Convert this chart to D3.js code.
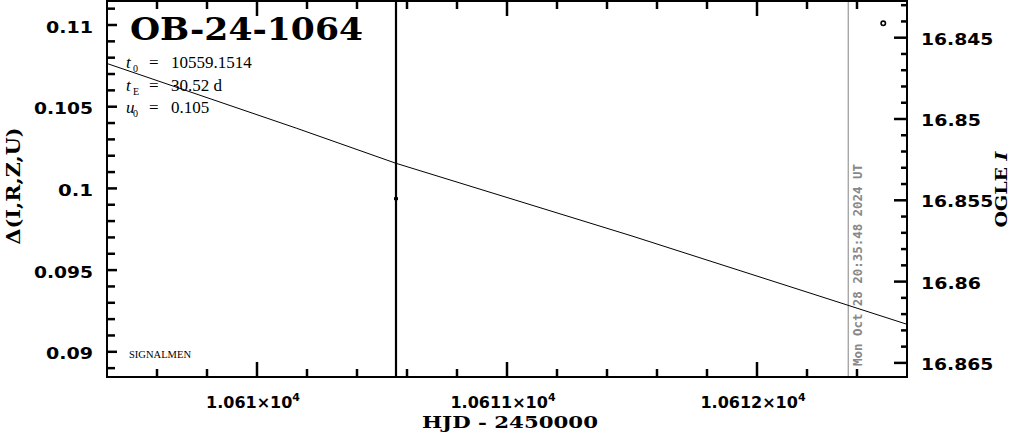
<!DOCTYPE html>
<html><head><meta charset="utf-8">
<script src="https://cdn.jsdelivr.net/npm/d3@7"></script>
<style>html,body{margin:0;padding:0;background:#fff;}svg{display:block;}</style>
</head><body>
<script>
// ---- data ----
const title = "OB-24-1064";
const params = [["t","0","10559.1514"],["t","E","30.52 d"],["u","0","0.105"]];
const xDomain = [10609.4, 10612.6];
const yLeftDomain = [0.088458, 0.111530];
const yRightDomain = [16.842682, 16.865867];
const xMajorTicks = [10610, 10611, 10612];
const xMinorTicks = [10609.6, 10609.8, 10610.2, 10610.4, 10610.6, 10610.8, 10611.2, 10611.4, 10611.6, 10611.8, 10612.2, 10612.4];
const xTickMantissa = ["1.061", "1.0611", "1.0612"];
const yLeftTicks = [0.09, 0.095, 0.1, 0.105, 0.11];
const yLeftMinor = [0.089, 0.091, 0.092, 0.093, 0.094, 0.096, 0.097, 0.098, 0.099, 0.101, 0.102, 0.103, 0.104, 0.106, 0.107, 0.108, 0.109, 0.111];
const yLeftTickLabels = ["0.09", "0.095", "0.1", "0.105", "0.11"];
const yRightTicks = [16.845, 16.85, 16.855, 16.86, 16.865];
const yRightMinor = [16.843, 16.844, 16.846, 16.847, 16.848, 16.849, 16.851, 16.852, 16.853, 16.854, 16.856, 16.857, 16.858, 16.859, 16.861, 16.862, 16.863, 16.864];
const yRightTickLabels = ["16.845", "16.85", "16.855", "16.86", "16.865"];
// model curve
const modelT = [10609.4, 10610.159, 10610.556, 10611.5, 10612.332, 10612.6];
const modelD = [0.107644, 0.103678, 0.101536, 0.097087, 0.093005, 0.091683];
// OGLE point with (huge) error bar
const obsT = [10610.556];
const obsMag = [16.8549];
const obsErr = [0.05];
// other point
const sigT = [10612.505];
const sigD = [0.110104];
const nowT = 10612.365;
const nowLabel = "Mon Oct 28 20:35:48 2024 UT";

// ---- layout ----
const W = 1011, H = 434;
const L = 107, R = 907, T = 0, B = 377;
const svg = d3.select("body").append("svg").attr("width", W).attr("height", H);

const x = d3.scaleLinear().domain(xDomain).range([L, R]);
const yL = d3.scaleLinear().domain(yLeftDomain).range([B, T]);
const yR = d3.scaleLinear().domain(yRightDomain).range([T, B]);

const plot = svg.append("g");

// now line
plot.append("line").attr("x1", x(nowT)).attr("x2", x(nowT)).attr("y1", T).attr("y2", B)
  .attr("stroke", "#999").attr("stroke-width", 1.2);

// model
plot.append("path").datum(modelT.map((t, i) => [t, modelD[i]]))
  .attr("d", d3.line().x(d => x(d[0])).y(d => yL(d[1])))
  .attr("fill", "none").attr("stroke", "#000").attr("stroke-width", 1);

// obs with error bars
obsT.forEach((t, i) => {
  plot.append("line").attr("x1", x(t)).attr("x2", x(t))
    .attr("y1", Math.max(T, yR(obsMag[i] - obsErr[i]))).attr("y2", Math.min(B, yR(obsMag[i] + obsErr[i])))
    .attr("stroke", "#000").attr("stroke-width", 2.2);
  plot.append("rect").attr("x", x(t) - 2).attr("y", yR(obsMag[i]) - 1.5)
    .attr("width", 4).attr("height", 3).attr("fill", "#000");
});
sigT.forEach((t, i) => {
  plot.append("circle").attr("cx", x(t)).attr("cy", yL(sigD[i])).attr("r", 2.2)
    .attr("fill", "#fff").attr("stroke", "#000").attr("stroke-width", 1.6);
});

// now label
svg.append("text").attr("transform", `translate(${x(nowT) + 14},${B - 11}) rotate(-90)`)
  .attr("font-family", "DejaVu Sans Mono").attr("font-weight", "bold").attr("font-size", 12.5)
  .attr("fill", "#888").attr("textLength", 202).attr("lengthAdjust", "spacingAndGlyphs")
  .text(nowLabel);

// frame
svg.append("path")
  .attr("d", `M${L} ${T + 1} H${R} V${B} H${L} Z`)
  .attr("fill", "none").attr("stroke", "#000").attr("stroke-width", 2);

// ---- ticks (inward), drawn last, from the scales ----
const tickG = svg.append("g").attr("class", "ticks");
function tickLine(x1, y1, x2, y2) {
  tickG.append("line").attr("x1", x1).attr("y1", y1).attr("x2", x2).attr("y2", y2)
    .style("stroke", "rgb(0,0,0)").style("stroke-width", "2.5px");
}
xMajorTicks.forEach(v => { tickLine(x(v), B, x(v), B - 15); tickLine(x(v), T, x(v), T + 16); });
xMinorTicks.forEach(v => { tickLine(x(v), B, x(v), B - 8); tickLine(x(v), T, x(v), T + 9); });
yLeftTicks.forEach(v => tickLine(L, yL(v), L + 10, yL(v)));
yLeftMinor.forEach(v => tickLine(L, yL(v), L + 8, yL(v)));
yRightTicks.forEach(v => tickLine(R, yR(v), R - 13, yR(v)));
yRightMinor.forEach(v => tickLine(R, yR(v), R - 6, yR(v)));

// tick labels
const tickFont = "DejaVu Sans";
yLeftTicks.forEach((v, i) => {
  const s = yLeftTickLabels[i];
  svg.append("text").attr("x", 93).attr("y", yL(v) + 7.5).attr("text-anchor", "end")
    .attr("font-family", tickFont).attr("font-weight", "bold").attr("font-size", 16)
    .attr("textLength", s.length * 12 - 1).attr("lengthAdjust", "spacingAndGlyphs").text(s);
});
yRightTicks.forEach((v, i) => {
  const s = yRightTickLabels[i];
  svg.append("text").attr("x", 921).attr("y", yR(v) + 7).attr("text-anchor", "start")
    .attr("font-family", tickFont).attr("font-weight", "bold").attr("font-size", 16)
    .attr("textLength", s.length * 12.2 - 1).attr("lengthAdjust", "spacingAndGlyphs").text(s);
});
xMajorTicks.forEach((v, i) => {
  const t = svg.append("text").attr("x", x(v) - 4).attr("y", 408).attr("text-anchor", "middle")
    .attr("font-family", tickFont).attr("font-size", 16).attr("font-weight", "bold");
  t.append("tspan").text(xTickMantissa[i] + "×10");
  t.append("tspan").attr("dy", -7).attr("font-size", 11).text("4");
});

// axis titles
svg.append("text").attr("x", 510).attr("y", 428).attr("text-anchor", "middle")
  .attr("font-family", "DejaVu Serif").attr("font-weight", "bold").attr("font-size", 16)
  .attr("textLength", 176).attr("lengthAdjust", "spacingAndGlyphs").text("HJD - 2450000");
svg.append("text").attr("transform", "translate(20,186) rotate(-90)").attr("text-anchor", "middle")
  .attr("font-family", "DejaVu Serif").attr("font-weight", "bold").attr("font-size", 19)
  .attr("textLength", 117).attr("lengthAdjust", "spacingAndGlyphs").text("Δ(I,R,Z,U)");
const og = svg.append("text").attr("transform", "translate(1007,189.5) rotate(-90)").attr("text-anchor", "middle")
  .attr("font-family", "DejaVu Serif").attr("font-weight", "bold").attr("font-size", 16)
  .attr("textLength", 76).attr("lengthAdjust", "spacingAndGlyphs");
og.append("tspan").text("OGLE ");
og.append("tspan").attr("font-style", "italic").text("I");

// title
svg.append("text").attr("x", 130).attr("y", 40)
  .attr("font-family", "DejaVu Serif").attr("font-weight", "bold").attr("font-size", 31)
  .attr("textLength", 233).attr("lengthAdjust", "spacingAndGlyphs").text(title);

// params
const baseY = [68, 91, 113];
params.forEach((p, i) => {
  const g = svg.append("g").attr("font-family", "Liberation Serif").attr("font-size", 17);
  g.append("text").attr("x", 126).attr("y", baseY[i]).attr("font-style", "italic").text(p[0]);
  g.append("text").attr("x", 133).attr("y", baseY[i] + 4).attr("font-size", 10).text(p[1]);
  g.append("text").attr("x", 149).attr("y", baseY[i]).text("=");
  g.append("text").attr("x", 171).attr("y", baseY[i]).text(p[2]);
});

svg.append("text").attr("x", 129).attr("y", 358)
  .attr("font-family", "Liberation Serif").attr("font-size", 10)
  .attr("textLength", 62).attr("lengthAdjust", "spacingAndGlyphs").text("SIGNALMEN");
</script>
</body></html>
